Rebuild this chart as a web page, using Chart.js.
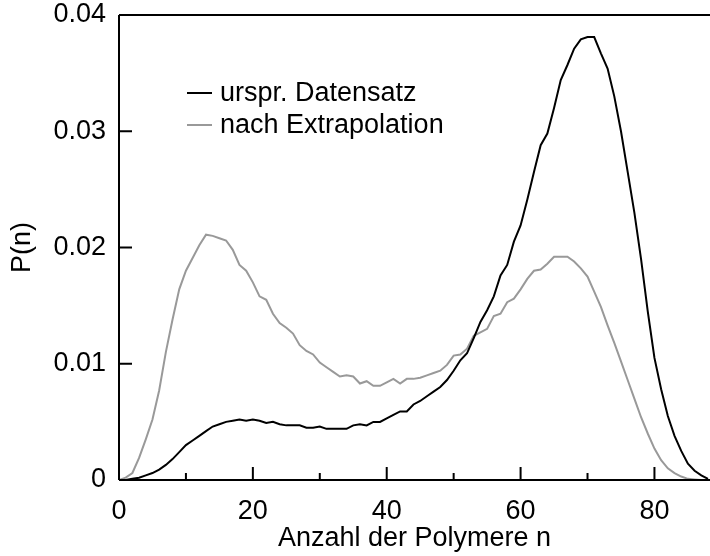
<!DOCTYPE html>
<html>
<head>
<meta charset="utf-8">
<script src="https://cdn.jsdelivr.net/npm/chart.js@4.4.1/dist/chart.umd.min.js"></script>
<style>
    html, body { margin: 0; padding: 0; background: #ffffff; }
    .chart-container { position: relative; width: 710px; height: 556px; }
    canvas { display: block; }
</style>
</head>
<body>
<div class="chart-container"><canvas id="chart" width="710" height="556"></canvas></div>
<script>
// Anzahl der Polymere n (0..88)
const nValues = Array.from({ length: 89 }, (_, i) => i);

// P(n) – urspr. Datensatz
const original = [
    0, 0, 0.0001, 0.0002, 0.0004, 0.0006, 0.0009, 0.0013, 0.0018, 0.0024,
    0.0030, 0.0034, 0.0038, 0.0042, 0.0046, 0.0048, 0.0050, 0.0051, 0.0052, 0.0051,
    0.0052, 0.0051, 0.0049, 0.0050, 0.0048, 0.0047, 0.0047, 0.0047, 0.0045, 0.0045,
    0.0046, 0.0044, 0.0044, 0.0044, 0.0044, 0.0047, 0.0048, 0.0047, 0.0050, 0.0050,
    0.0053, 0.0056, 0.0059, 0.0059, 0.0065, 0.0068, 0.0072, 0.0076, 0.0080, 0.0086,
    0.0094, 0.0103, 0.0109, 0.0122, 0.0136, 0.0146, 0.0158, 0.0176, 0.0185, 0.0205,
    0.0219, 0.0241, 0.0265, 0.0288, 0.0298, 0.0320, 0.0344, 0.0357, 0.0371, 0.0379,
    0.0381, 0.0381, 0.0367, 0.0354, 0.0330, 0.0300, 0.0265, 0.0230, 0.0190, 0.0145,
    0.0105, 0.0078, 0.0055, 0.0038, 0.0025, 0.0014, 0.0008, 0.0004, 0.0001
];

// P(n) – nach Extrapolation
const extrapolated = [
    0, 0.0002, 0.0006, 0.0019, 0.0035, 0.0052, 0.0077, 0.0110, 0.0138, 0.0164,
    0.0180, 0.0191, 0.0202, 0.0211, 0.0210, 0.0208, 0.0206, 0.0198, 0.0185, 0.0180,
    0.0170, 0.0158, 0.0155, 0.0143, 0.0135, 0.0131, 0.0126, 0.0116, 0.0111, 0.0108,
    0.0101, 0.0097, 0.0093, 0.0089, 0.0090, 0.0089, 0.0083, 0.0085, 0.0081, 0.0081,
    0.0084, 0.0087, 0.0083, 0.0087, 0.0087, 0.0088, 0.0090, 0.0092, 0.0094, 0.0099,
    0.0107, 0.0108, 0.0113, 0.0124, 0.0127, 0.0130, 0.0141, 0.0143, 0.0153, 0.0156,
    0.0164, 0.0173, 0.0180, 0.0181, 0.0186, 0.0192, 0.0192, 0.0192, 0.0188, 0.0182,
    0.0175, 0.0162, 0.0149, 0.0133, 0.0118, 0.0102, 0.0086, 0.0070, 0.0054, 0.0040,
    0.0027, 0.0017, 0.0010, 0.0006, 0.0003, 0.0001, 0.00005, 0, 0
];

const seriesLabels = ['urspr. Datensatz', 'nach Extrapolation'];
const seriesColors = ['#000000', '#999999'];
const xMajorTicks = [0, 20, 40, 60, 80];
const xMinorTicks = [10, 30, 50, 70];
const yTicks = [0, 0.01, 0.02, 0.03, 0.04];

const FONT = 'Liberation Sans, Arial, sans-serif';
const FONT_SIZE = 27;

const toPoints = (ys) => nValues.map((n, i) => ({ x: n, y: ys[i] }));

// Achsenlinien, Ticks nach innen, Legende
const framePlugin = {
    id: 'frame',
    afterDraw(chart) {
        const { ctx, chartArea: a, scales } = chart;
        const xs = scales.x, ys = scales.y;
        ctx.save();
        ctx.strokeStyle = '#000';
        ctx.lineWidth = 2;
        ctx.beginPath();
        ctx.moveTo(a.left, a.top); ctx.lineTo(a.right, a.top);
        ctx.moveTo(a.left, a.top); ctx.lineTo(a.left, a.bottom);
        ctx.moveTo(a.left, a.bottom); ctx.lineTo(a.right, a.bottom);
        xMajorTicks.forEach(v => {
            const px = xs.getPixelForValue(v);
            ctx.moveTo(px, a.bottom); ctx.lineTo(px, a.bottom - 13);
        });
        xMinorTicks.forEach(v => {
            const px = xs.getPixelForValue(v);
            ctx.moveTo(px, a.bottom); ctx.lineTo(px, a.bottom - 7);
        });
        yTicks.forEach(v => {
            const py = ys.getPixelForValue(v);
            ctx.moveTo(a.left, py); ctx.lineTo(a.left + 13, py);
        });
        ctx.stroke();

        // Legende
        ctx.font = FONT_SIZE + 'px ' + FONT;
        ctx.textBaseline = 'middle';
        ctx.fillStyle = '#000';
        chart.data.datasets.forEach((ds, i) => {
            const y = 93 + i * 32;
            ctx.strokeStyle = ds.borderColor;
            ctx.lineWidth = 2;
            ctx.beginPath();
            ctx.moveTo(187, y); ctx.lineTo(212, y);
            ctx.stroke();
            ctx.fillText(ds.label, 220, y + 1);
        });
        ctx.restore();
    }
};

new Chart(document.getElementById('chart').getContext('2d'), {
    type: 'line',
    data: {
        datasets: [
            { label: seriesLabels[0], data: toPoints(original), borderColor: seriesColors[0], borderWidth: 2, pointRadius: 0, tension: 0 },
            { label: seriesLabels[1], data: toPoints(extrapolated), borderColor: seriesColors[1], borderWidth: 2, pointRadius: 0, tension: 0 }
        ]
    },
    options: {
        responsive: false,
        animation: false,
        devicePixelRatio: 1,
        layout: { padding: { top: 15, right: 0, left: 0, bottom: 0 } },
        plugins: { legend: { display: false }, tooltip: { enabled: false } },
        scales: {
            x: {
                type: 'linear',
                min: 0,
                max: 88.3,
                grid: { display: false, drawTicks: false },
                border: { display: false },
                ticks: {
                    stepSize: 20,
                    includeBounds: false,
                    padding: 15,
                    color: '#000',
                    font: { family: FONT, size: FONT_SIZE },
                    maxRotation: 0,
                    callback: v => (xMajorTicks.includes(v) ? String(v) : null)
                },
                title: {
                    display: true,
                    text: 'Anzahl der Polymere n',
                    color: '#000',
                    font: { family: FONT, size: FONT_SIZE },
                    padding: { top: 0, bottom: 1 }
                },
                afterFit: s => { s.height = 76; s.paddingLeft = 0; s.paddingRight = 0; }
            },
            y: {
                type: 'linear',
                min: 0,
                max: 0.04,
                grid: { display: false, drawTicks: false },
                border: { display: false },
                ticks: {
                    stepSize: 0.01,
                    padding: 13,
                    color: '#000',
                    font: { family: FONT, size: FONT_SIZE },
                    callback: v => (Math.abs(v) < 1e-9 ? '0' : v.toFixed(2))
                },
                title: {
                    display: true,
                    text: 'P(n)',
                    color: '#000',
                    font: { family: FONT, size: FONT_SIZE },
                    padding: { top: 6, bottom: 6 }
                },
                afterFit: s => { s.width = 119; s.paddingTop = 0; s.paddingBottom = 0; }
            }
        }
    },
    plugins: [framePlugin]
});
</script>
</body>
</html>
